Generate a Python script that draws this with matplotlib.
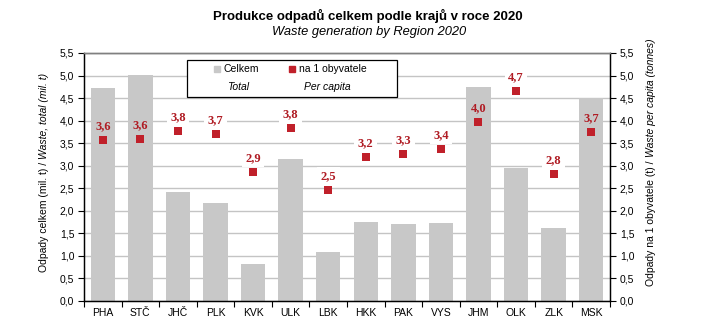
import matplotlib
matplotlib.use("Agg")
import matplotlib.pyplot as plt
from matplotlib.patches import Rectangle
from matplotlib.lines import Line2D
import numpy as np

plt.rcParams['font.family'] = ['Liberation Sans', 'DejaVu Sans']

regions = ["PHA", "STČ", "JHČ", "PLK", "KVK", "ULK", "LBK", "HKK", "PAK", "VYS", "JHM", "OLK", "ZLK", "MSK"]
total_mil_t = [4.72, 5.02, 2.42, 2.17, 0.83, 3.15, 1.08, 1.76, 1.71, 1.72, 4.74, 2.94, 1.63, 4.50]
per_capita_t = [3.56, 3.60, 3.76, 3.70, 2.87, 3.84, 2.46, 3.20, 3.27, 3.38, 3.97, 4.66, 2.82, 3.74]
y_ticks = [0.0, 0.5, 1.0, 1.5, 2.0, 2.5, 3.0, 3.5, 4.0, 4.5, 5.0, 5.5]

BAR = "#c8c8c8"
RED = "#c0202a"
LABEL_RED = "#b01c24"
W, H = 701, 333

fig = plt.figure(figsize=(W / 100, H / 100), dpi=100)
ax = fig.add_axes([84 / W, 1 - 301 / H, (610 - 84) / W, (301 - 53) / H])
ax2 = ax.twinx()

x = np.arange(len(regions))
ax.set_axisbelow(True)
ax.yaxis.grid(True, color="#c4c4c4", linewidth=1.0)
ax.bar(x, total_mil_t, width=0.65, color=BAR, zorder=2)

ax2.scatter(x, per_capita_t, marker="s", s=32, color=RED, zorder=3, linewidths=0)

def fmt(v):
    return f"{v:.1f}".replace(".", ",")

for xi, v in zip(x, per_capita_t):
    # white backing under the bars so the gridlines break around each label
    ax.annotate(fmt(v), (xi, v), xytext=(0, 10), textcoords="offset points",
                ha="center", va="center", fontsize=9, fontweight="bold",
                family=["Liberation Serif", "DejaVu Serif"], color="white",
                bbox=dict(facecolor="white", edgecolor="none", pad=2.5), zorder=1)
    ax2.annotate(fmt(v), (xi, v), xytext=(0, 10), textcoords="offset points",
                 ha="center", va="center", fontsize=9, fontweight="bold",
                 family=["Liberation Serif", "DejaVu Serif"], color=LABEL_RED, zorder=4)

for a in (ax, ax2):
    a.set_ylim(0, 5.5)
    a.set_xlim(-0.5, len(regions) - 0.5)
    a.set_yticks(y_ticks)
    a.set_yticklabels([fmt(t) for t in y_ticks], fontsize=7.5)
    a.tick_params(axis="y", length=4, width=0.8, direction="out", pad=3)
    for side in ("left", "right", "bottom"):
        a.spines[side].set_color("black")
        a.spines[side].set_linewidth(0.9)
    a.spines["top"].set_color("#808080")
    a.spines["top"].set_linewidth(1.0)

ax.set_xticks(x)
ax.set_xticklabels(regions, fontsize=7.5)
ax.tick_params(axis="x", length=0, pad=5)
ax.set_xticks(np.arange(-0.5, len(regions), 1.0), minor=True)
ax.tick_params(axis="x", which="minor", length=4, width=0.8, direction="out")

# legend box
lx0, lx1, ly0, ly1 = 187, 397, 60, 97
fig.patches.append(Rectangle((lx0 / W, 1 - ly1 / H), (lx1 - lx0) / W, (ly1 - ly0) / H,
                             transform=fig.transFigure, facecolor="white",
                             edgecolor="black", linewidth=0.9, zorder=10))
fig.lines.append(Line2D([217 / W], [1 - 69 / H], marker="s", markersize=4.5, color=BAR,
                        linestyle="none", transform=fig.transFigure, zorder=11))
fig.lines.append(Line2D([292 / W], [1 - 69 / H], marker="s", markersize=4.5, color=RED,
                        linestyle="none", transform=fig.transFigure, zorder=11))
fig.text(224 / W, 1 - 69 / H, "Celkem", fontsize=7.5, ha="left", va="center", zorder=12)
fig.text(299 / W, 1 - 69 / H, "na 1 obyvatele", fontsize=7.5, ha="left", va="center", zorder=12)
fig.text(238 / W, 1 - 87 / H, "Total", fontsize=7.5, style="italic", ha="center", va="center", zorder=12)
fig.text(327 / W, 1 - 87 / H, "Per capita", fontsize=7.5, style="italic", ha="center", va="center", zorder=12)

# titles
fig.text(368 / W, 1 - 16 / H, "Produkce odpadů celkem podle krajů v roce 2020",
         fontsize=9.5, fontweight="bold", ha="center", va="center")
fig.text(369 / W, 1 - 32 / H, "Waste generation by Region 2020",
         fontsize=9.3, style="italic", ha="center", va="center")

# two-part rotated axis titles (plain + italic)
def vlabel(xpx, center_ypx, plain, italic):
    t1 = fig.text(xpx / W, 0, plain, rotation=90, fontsize=7.5, ha="center", va="bottom")
    t2 = fig.text(xpx / W, 0, italic, rotation=90, fontsize=7.5, style="italic",
                  ha="center", va="bottom")
    fig.canvas.draw()
    r = fig.canvas.get_renderer()
    h1 = t1.get_window_extent(r).height
    h2 = t2.get_window_extent(r).height
    y0 = center_ypx - (h1 + h2) / 2
    t1.set_y(y0 / H)
    t2.set_y((y0 + h1) / H)

vlabel(44, H - 172, "Odpady celkem (mil. t) / ", "Waste, total (mil. t)")
vlabel(651, H - 162, "Odpady na 1 obyvatele (t) / ", "Waste per capita (tonnes)")

fig.savefig("out.png", dpi=100)
